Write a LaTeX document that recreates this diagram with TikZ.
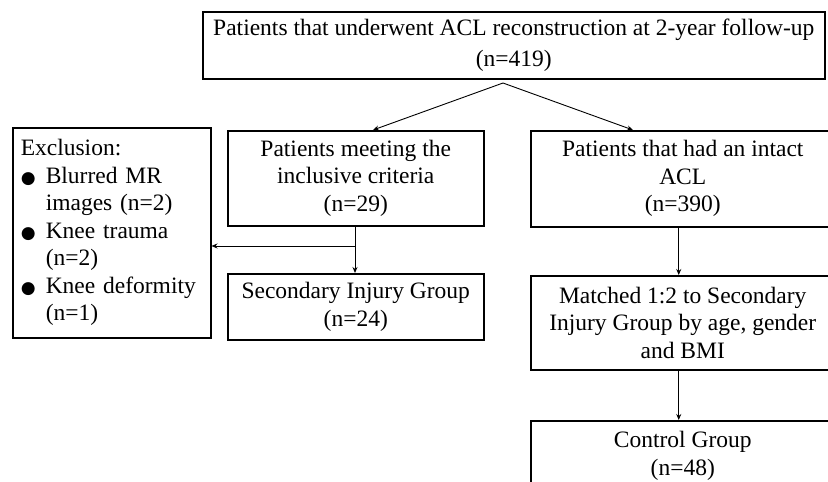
\documentclass[tikz,border=0pt]{standalone}
\usepackage{fontspec}
\setmainfont{Liberation Serif}
\newfontfamily\symfont{DejaVu Sans}
\usetikzlibrary{arrows.meta}
\newcommand{\bul}{\makebox[25pt][l]{\hspace{0pt}{\symfont\fontsize{17}{17}\selectfont ●}}}
\newcommand{\ind}{\hspace*{25pt}}
\tikzset{
  box/.style={draw, line width=1.5pt, anchor=north west, align=center, inner sep=0pt,
    font=\fontsize{23.5}{27.5}\selectfont},
  conn/.style={line width=0.9pt, -{Stealth[length=6pt,width=5pt]}},
}
\begin{document}
\begin{tikzpicture}[x=1pt,y=-1pt]
\useasboundingbox (0,0) rectangle (828,482);
\node[box, minimum width=622pt, minimum height=67pt, font=\fontsize{23.5}{31}\selectfont] (top) at (202,11)
  {Patients that underwent ACL reconstruction at 2-year follow-up\\(n=419)};
\node[box, minimum width=256pt, minimum height=95pt] (incl) at (227,130)
  {Patients meeting the\\inclusive criteria\\(n=29)};
\node[box, minimum width=198pt, minimum height=210pt, align=left, text width=182pt, inner xsep=8pt] (excl) at (12,127)
  {Exclusion:\\
   \bul Blurred MR\\
   \ind images (n=2)\\
   \bul Knee trauma\\
   \ind (n=2)\\
   \bul Knee deformity\\
   \ind (n=1)};
\node[box, minimum width=256pt, minimum height=66pt] (sec) at (227,273)
  {Secondary Injury Group\\(n=24)};
\node[box, minimum width=304pt, minimum height=96pt] (intact) at (530,130)
  {Patients that had an intact\\ACL\\(n=390)};
\node[box, minimum width=304pt, minimum height=94pt] (match) at (530,275)
  {Matched 1:2 to Secondary\\Injury Group by age, gender\\and BMI};
\node[box, minimum width=304pt, minimum height=70pt] (ctrl) at (530,420)
  {Control Group\\(n=48)};
\coordinate (split) at (503,83);
\coordinate (lt) at (373,130);
\coordinate (rt) at (633,130);
\coordinate (branch) at (355,246);
\draw[conn] (split) -- (lt);
\draw[conn] (split) -- (rt);
\draw[conn] (incl.south -| branch) -- (sec.north -| branch);
\draw[conn] (branch) -- (excl.east |- branch);
\draw[conn] ([xshift=-4pt]intact.south) -- ([xshift=-4pt]match.north);
\draw[conn] ([xshift=-4pt]match.south) -- ([xshift=-4pt]ctrl.north);
\end{tikzpicture}
\end{document}
